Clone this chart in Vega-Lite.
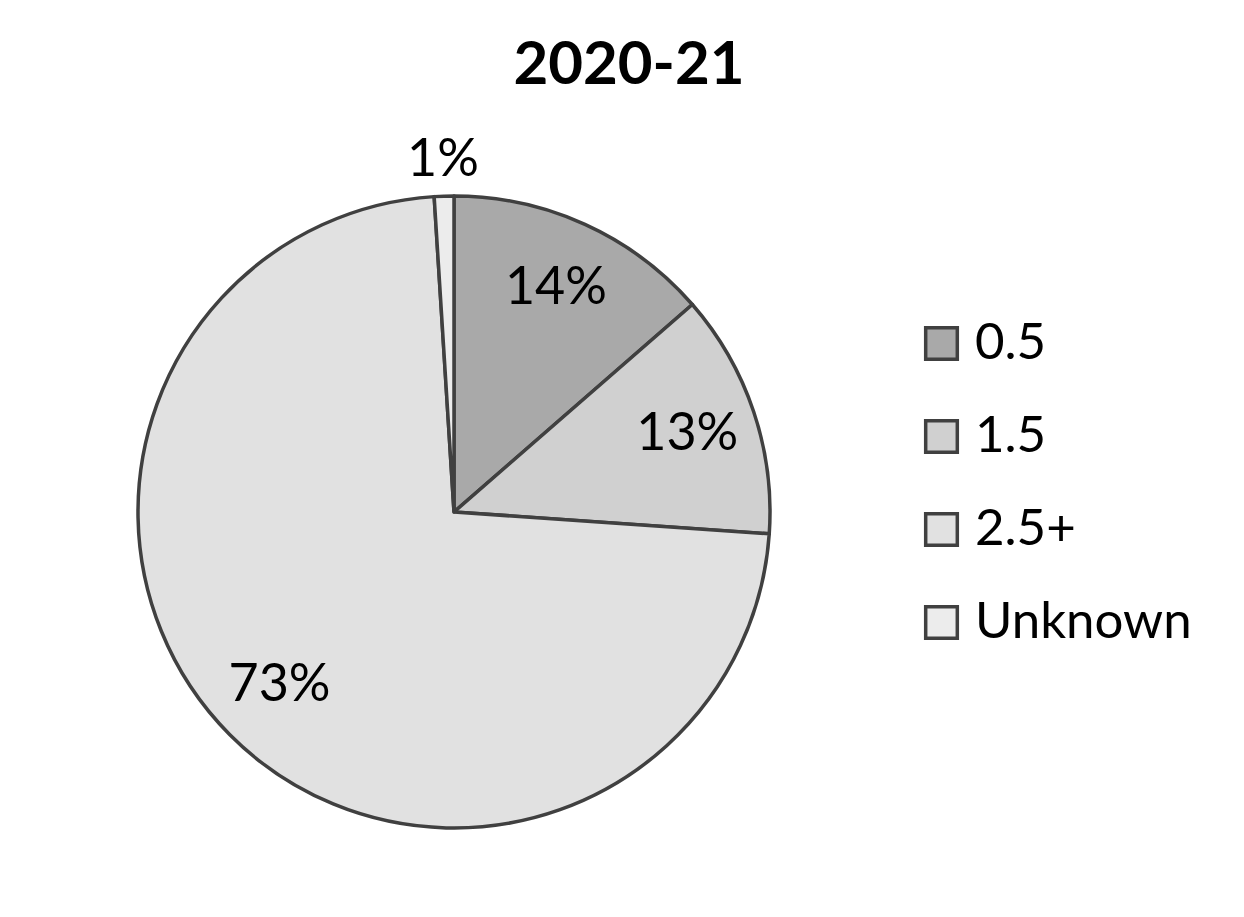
{
  "$schema": "https://vega.github.io/schema/vega-lite/v6.json",
  "autosize": "none",
  "width": 632,
  "height": 632,
  "padding": {"left": 138, "top": 196, "right": 474, "bottom": 89},
  "background": "white",
  "title": {
    "text": "2020-21",
    "font": "Lato",
    "fontSize": 60,
    "fontWeight": "bold",
    "color": "black",
    "anchor": "middle",
    "frame": "group",
    "dx": 175,
    "baseline": "alphabetic",
    "offset": -10
  },
  "data": {
    "values": [
      {"category": "0.5", "value": 13.6, "label": "14%"},
      {"category": "1.5", "value": 12.5, "label": "13%"},
      {"category": "2.5+", "value": 72.9, "label": "73%"},
      {"category": "Unknown", "value": 1.0, "label": "1%"}
    ]
  },
  "encoding": {
    "theta": {"field": "value", "type": "quantitative", "stack": true}
  },
  "layer": [
    {
      "mark": {"type": "arc", "stroke": "#404040", "strokeWidth": 3.5, "strokeJoin": "round"},
      "encoding": {
        "color": {
          "field": "category",
          "type": "nominal",
          "sort": ["0.5", "1.5", "2.5+", "Unknown"],
          "scale": {"domain": ["0.5", "1.5", "2.5+", "Unknown"], "range": ["#a9a9a9", "#d0d0d0", "#e1e1e1", "#ececec"]},
          "legend": {
            "title": null,
            "orient": "none",
            "legendX": 778,
            "legendY": 122,
            "symbolType": "square",
            "symbolSize": 1000,
            "symbolStrokeColor": "#404040",
            "symbolStrokeWidth": 3.5,
            "symbolOpacity": 1,
            "labelFont": "Lato",
            "labelFontSize": 51,
            "labelColor": "black",
            "labelOffset": 8,
            "rowPadding": 41,
            "labelLimit": 400
          }
        },
        "order": {"field": "category", "sort": "ascending"}
      }
    },
    {
      "mark": {"type": "text", "radius": 246, "font": "Lato", "fontSize": 52, "color": "black", "align": "center", "baseline": "middle"},
      "encoding": {
        "detail": {"field": "category", "type": "nominal"},
        "order": {"field": "category", "sort": "ascending"},
        "text": {"condition": {"test": "datum.value < 5", "value": ""}, "field": "label", "type": "nominal"}
      }
    },
    {
      "mark": {"type": "text", "radius": 352, "font": "Lato", "fontSize": 52, "color": "black", "align": "center", "baseline": "middle"},
      "encoding": {
        "detail": {"field": "category", "type": "nominal"},
        "order": {"field": "category", "sort": "ascending"},
        "text": {"condition": {"test": "datum.value >= 5", "value": ""}, "field": "label", "type": "nominal"}
      }
    }
  ],
  "config": {"view": {"stroke": null}}
}
